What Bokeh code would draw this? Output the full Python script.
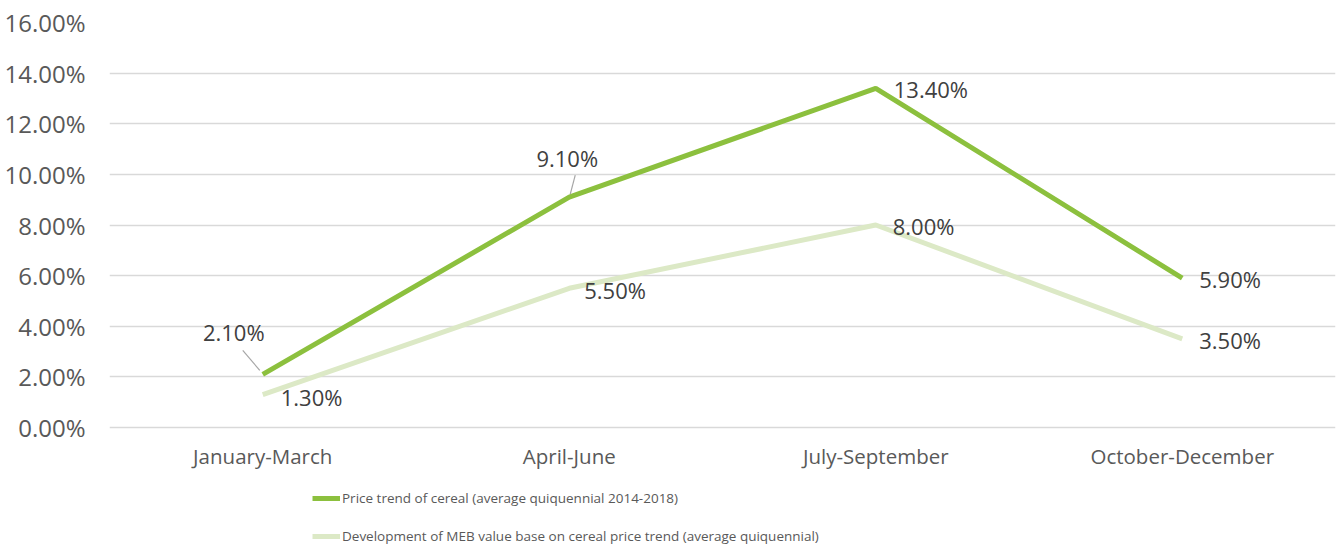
from bokeh.plotting import figure
from bokeh.models import ColumnDataSource, FixedTicker, NumeralTickFormatter, Legend, LegendItem, Range1d
from bokeh.core.properties import value
from bokeh.embed import file_html
from bokeh.resources import INLINE

categories = ["January-March", "April-June", "July-September", "October-December"]
price_trend = [0.021, 0.091, 0.134, 0.059]
meb_value = [0.013, 0.055, 0.080, 0.035]
y_ticks = [0.0, 0.02, 0.04, 0.06, 0.08, 0.10, 0.12, 0.14, 0.16]
series_names = ["Price trend of cereal (average quiquennial 2014-2018)",
                "Development of MEB value base on cereal price trend (average quiquennial)"]

DARK = "#8cc03e"
LIGHT = "#dce9c6"
FONT = "Open Sans"

W, H = 1336, 549
ML, MT, MR = 109, 22, 1
AXIS_BOTTOM = 427          # pixel row of the 0% line
Y_MAX = 0.16
units_per_px = Y_MAX / (AXIS_BOTTOM - MT)
y_start = -(H - AXIS_BOTTOM) * units_per_px   # extra room below 0 for categories + legend

p = figure(width=W, height=H, output_backend="svg", toolbar_location=None,
           x_range=Range1d(-0.5, 3.5), y_range=Range1d(y_start, Y_MAX),
           x_axis_location=None,
           min_border_left=ML, min_border_top=MT, min_border_bottom=0, min_border_right=MR)
p.outline_line_color = None
p.background_fill_color = "white"
p.border_fill_color = "white"

xs = list(range(len(categories)))

# y axis
p.yaxis.ticker = FixedTicker(ticks=y_ticks)
p.yaxis.formatter = NumeralTickFormatter(format="0.00%")
p.yaxis.axis_line_color = None
p.yaxis.major_tick_line_color = None
p.yaxis.minor_tick_line_color = None
p.yaxis.major_label_text_font = FONT
p.yaxis.major_label_text_color = "#595959"
p.yaxis.major_label_text_font_size = "24px"
p.yaxis.major_label_standoff = 18
p.xgrid.grid_line_color = None
p.ygrid.ticker = FixedTicker(ticks=y_ticks)
p.ygrid.grid_line_color = "#d9d9d9"
p.ygrid.grid_line_width = 1.5

# category labels (x axis)
cat_src = ColumnDataSource(dict(x=xs, y=[0] * len(xs), t=categories))
p.text(x="x", y="y", text="t", source=cat_src, y_offset=28,
       text_align="center", text_baseline="middle",
       text_font=value(FONT), text_font_size="20.5px", text_color="#595959")

# lines
r1 = p.line(xs, price_trend, line_color=DARK, line_width=5)
r2 = p.line(xs, meb_value, line_color=LIGHT, line_width=5)

# leader lines (computed from data + pixel offsets)
fw = W - ML - MR
px_x = 4.0 / fw
px_y = units_per_px
lead_src = ColumnDataSource(dict(
    x0=[xs[0] - 3 * px_x, xs[1] + 1 * px_x],
    y0=[price_trend[0] + 4 * px_y, price_trend[1] + 3 * px_y],
    x1=[xs[0] - 20 * px_x, xs[1] + 6 * px_x],
    y1=[price_trend[0] + 24 * px_y, price_trend[1] + 22 * px_y],
))
p.segment(x0="x0", y0="y0", x1="x1", y1="y1", source=lead_src, line_color="#a6a6a6", line_width=1.2)

# data labels
def pct(v):
    return f"{v*100:.2f}%"

lab_dark = ColumnDataSource(dict(
    x=xs, y=price_trend, t=[pct(v) for v in price_trend],
    xo=[-29, -2, 18, 17], yo=[-42, -39, 1, 1],
    align=["center", "center", "left", "left"],
))
lab_light = ColumnDataSource(dict(
    x=xs, y=meb_value, t=[pct(v) for v in meb_value],
    xo=[18, 15, 17, 17], yo=[2, 2, 1, 1],
    align=["left", "left", "left", "left"],
))
for src in (lab_dark, lab_light):
    p.text(x="x", y="y", text="t", source=src, x_offset="xo", y_offset="yo",
           text_align="align", text_baseline="middle",
           text_font=value(FONT), text_font_size="22px", text_color="#404040")

legend = Legend(items=[LegendItem(label=series_names[0], renderers=[r1]),
                       LegendItem(label=series_names[1], renderers=[r2])],
                location=(203, 4), orientation="vertical")
legend.label_text_font = FONT
legend.label_text_font_size = "13.5px"
legend.label_text_color = "#595959"
legend.glyph_width = 28
legend.glyph_height = 18
legend.label_height = 18
legend.label_standoff = 2
legend.spacing = 20
legend.padding = 0
legend.margin = 0
legend.border_line_color = None
legend.background_fill_alpha = 0
p.add_layout(legend, "center")

open("out.html", "w").write(file_html(p, INLINE))
